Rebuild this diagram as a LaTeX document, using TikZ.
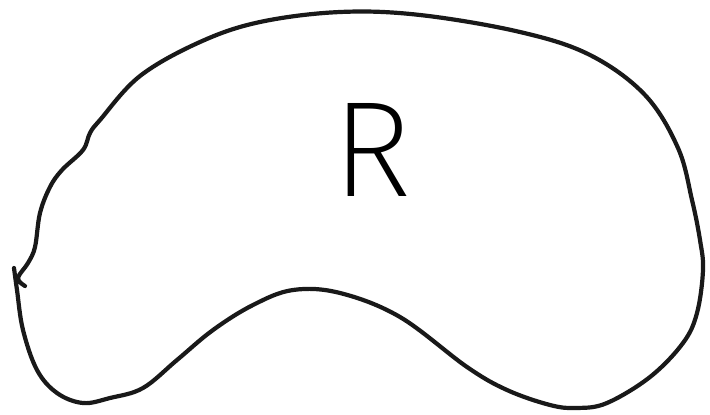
\documentclass[tikz,border=0pt]{standalone}
\usepackage{fontspec}
\IfFontExistsTF{Fira Sans ExtraLight}{\newfontfamily\rfont{Fira Sans ExtraLight}}{%
 \IfFontExistsTF{Fira Sans Light}{\newfontfamily\rfont{Fira Sans Light}}{%
  \newfontfamily\rfont{Fira Sans}}}
\begin{document}
\begin{tikzpicture}[x=1pt,y=-1pt,
  ink/.style={draw=black!90,line width=4.2pt,line cap=round,line join=round}]
\useasboundingbox (0,0) rectangle (710,415);
\draw[ink] plot[smooth,tension=0.6] coordinates {
 (25,286) (18,278) (28,263) (35,247) (40,213) (50,187) (62,170) (83,150)
 (90,133) (100,120) (140,76) (200,42) (260,22) (340,12) (420,15) (520,32)
 (590,55) (645,95) (678,148) (692,200) (700,240) (703,270) (697,313)
 (683,343) (650,377) (607,403) (577,408) (550,405) (507,390) (467,367)
 (400,317) (340,293) (293,290) (253,305) (213,330) (177,360) (143,388)
 (110,398) (83,403) (57,393) (37,370) (23,330) (17,290) (14,268)};
\node[anchor=base,inner sep=0pt,font=\rfont\fontsize{136}{136}\selectfont] (r) at (372,196) {R};
\end{tikzpicture}
\end{document}
